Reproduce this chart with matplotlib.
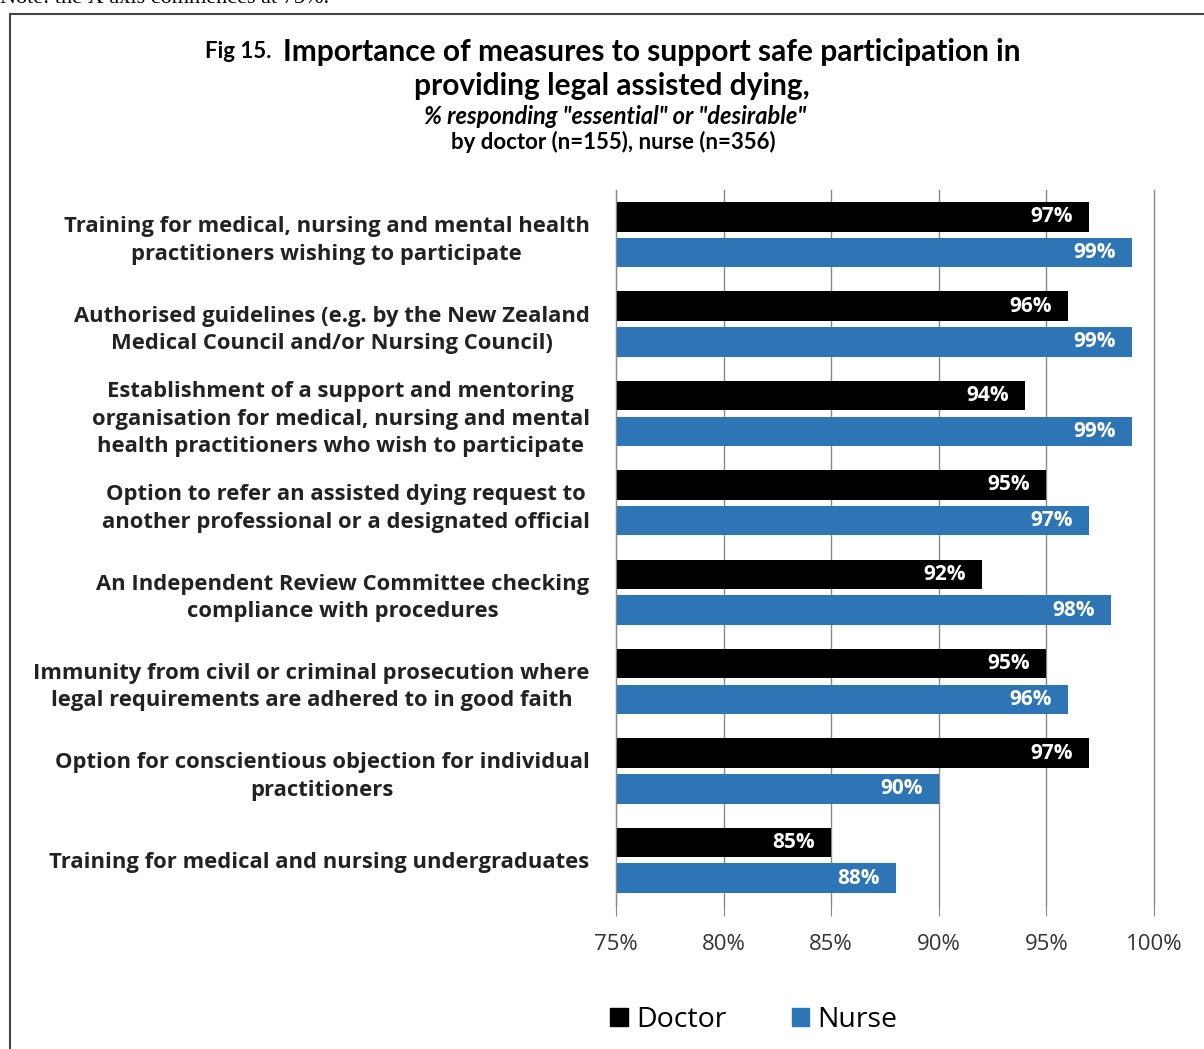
import matplotlib
matplotlib.use("Agg")
import matplotlib.pyplot as plt
import numpy as np
from matplotlib.patches import Rectangle

categories = [
    "Training for medical, nursing and mental health\npractitioners wishing to participate",
    "Authorised guidelines (e.g. by the New Zealand\nMedical Council and/or Nursing Council)",
    "Establishment of a support and mentoring\norganisation for medical, nursing and mental\nhealth practitioners who wish to participate",
    "Option to refer an assisted dying request to\nanother professional or a designated official",
    "An Independent Review Committee checking\ncompliance with procedures",
    "Immunity from civil or criminal prosecution where\nlegal requirements are adhered to in good faith",
    "Option for conscientious objection for individual\npractitioners",
    "Training for medical and nursing undergraduates",
]
doctor = [97, 96, 94, 95, 92, 95, 97, 85]
nurse = [99, 99, 99, 97, 98, 96, 90, 88]
ticks = [75, 80, 85, 90, 95, 100]

blue = "#2E75B6"
fig = plt.figure(figsize=(12.04, 10.49), dpi=100)

# outer border of the chart box
fig.patches.append(Rectangle((10 / 1204, -0.01), 1.2, 1 - 14 / 1049 + 0.01,
                             transform=fig.transFigure, fill=False,
                             edgecolor="#444444", lw=1.5))
# note line at the very top, mostly cut off by the page edge
fig.text(0.0, 1.0 - 3 / 1049, "Note: the X axis commences at 75%.",
         family="Liberation Serif", fontsize=16, va="baseline", ha="left")

ax = fig.add_axes([616 / 1204, 1 - 905 / 1049, (1154 - 616) / 1204, (905 - 190) / 1049])
y = np.arange(len(categories))
h = 0.33
ax.barh(y - 0.2, [d - 75 for d in doctor], left=75, height=h, color="black")
ax.barh(y + 0.2, [n - 75 for n in nurse], left=75, height=h, color=blue)

for yi, d, n in zip(y, doctor, nurse):
    ax.text(d - 0.75, yi - 0.2, f"{d}%", color="white", ha="right", va="center",
            family="Open Sans", fontweight="bold", fontsize=15)
    ax.text(n - 0.75, yi + 0.2, f"{n}%", color="white", ha="right", va="center",
            family="Open Sans", fontweight="bold", fontsize=15)

ax.set_xlim(75, 100)
ax.set_ylim(len(categories) - 0.5, -0.5)
ax.set_xticks(ticks)
ax.set_xticklabels([f"{t}%" for t in ticks], family="Open Sans", fontsize=16, color="#333333")
ax.tick_params(axis="x", length=8, color="#888888", pad=13)
ax.set_yticks(y)
ax.set_yticklabels(categories, family="Open Sans", fontweight="bold", fontsize=15.8,
                   color="#222222", linespacing=1.4, multialignment="center")
ax.tick_params(axis="y", length=0, pad=19)
ax.grid(axis="x", color="#888888", lw=1)
for gl in ax.get_xgridlines():
    gl.set_clip_on(False)
ax.set_axisbelow(True)
for s in ["top", "right", "bottom"]:
    ax.spines[s].set_visible(False)
ax.spines["left"].set_color("#888888")

# title
tfam = "Lato"
fig.text(205 / 1204, 1 - 52 / 1049, "Fig 15.", family=tfam, fontweight="bold",
         fontsize=16, va="center", ha="left")
fig.text(283 / 1204, 1 - 52 / 1049, "Importance of measures to support safe participation in",
         family=tfam, fontweight="bold", fontsize=21.5, va="center", ha="left")
fig.text(612 / 1204, 1 - 86 / 1049, "providing legal assisted dying,", family=tfam,
         fontweight="bold", fontsize=21.5, va="center", ha="center")
fig.text(615 / 1204, 1 - 116 / 1049, '% responding "essential" or "desirable"', family=tfam,
         fontweight="bold", style="italic", fontsize=17, va="center", ha="center")
fig.text(613 / 1204, 1 - 142 / 1049, "by doctor (n=155), nurse (n=356)", family=tfam,
         fontweight="bold", fontsize=16, va="center", ha="center")

# legend
handles = [Rectangle((0, 0), 1, 1, color="black"), Rectangle((0, 0), 1, 1, color=blue)]
fig.legend(handles, ["Doctor", "Nurse"], loc="center", bbox_to_anchor=(754 / 1204, 1 - 1020 / 1049),
           ncol=2, frameon=False, prop={"family": "Open Sans", "size": 20.5},
           handlelength=0.6, handleheight=0.6, handletextpad=0.3, columnspacing=2.3)

fig.savefig("out.png", dpi=100)
